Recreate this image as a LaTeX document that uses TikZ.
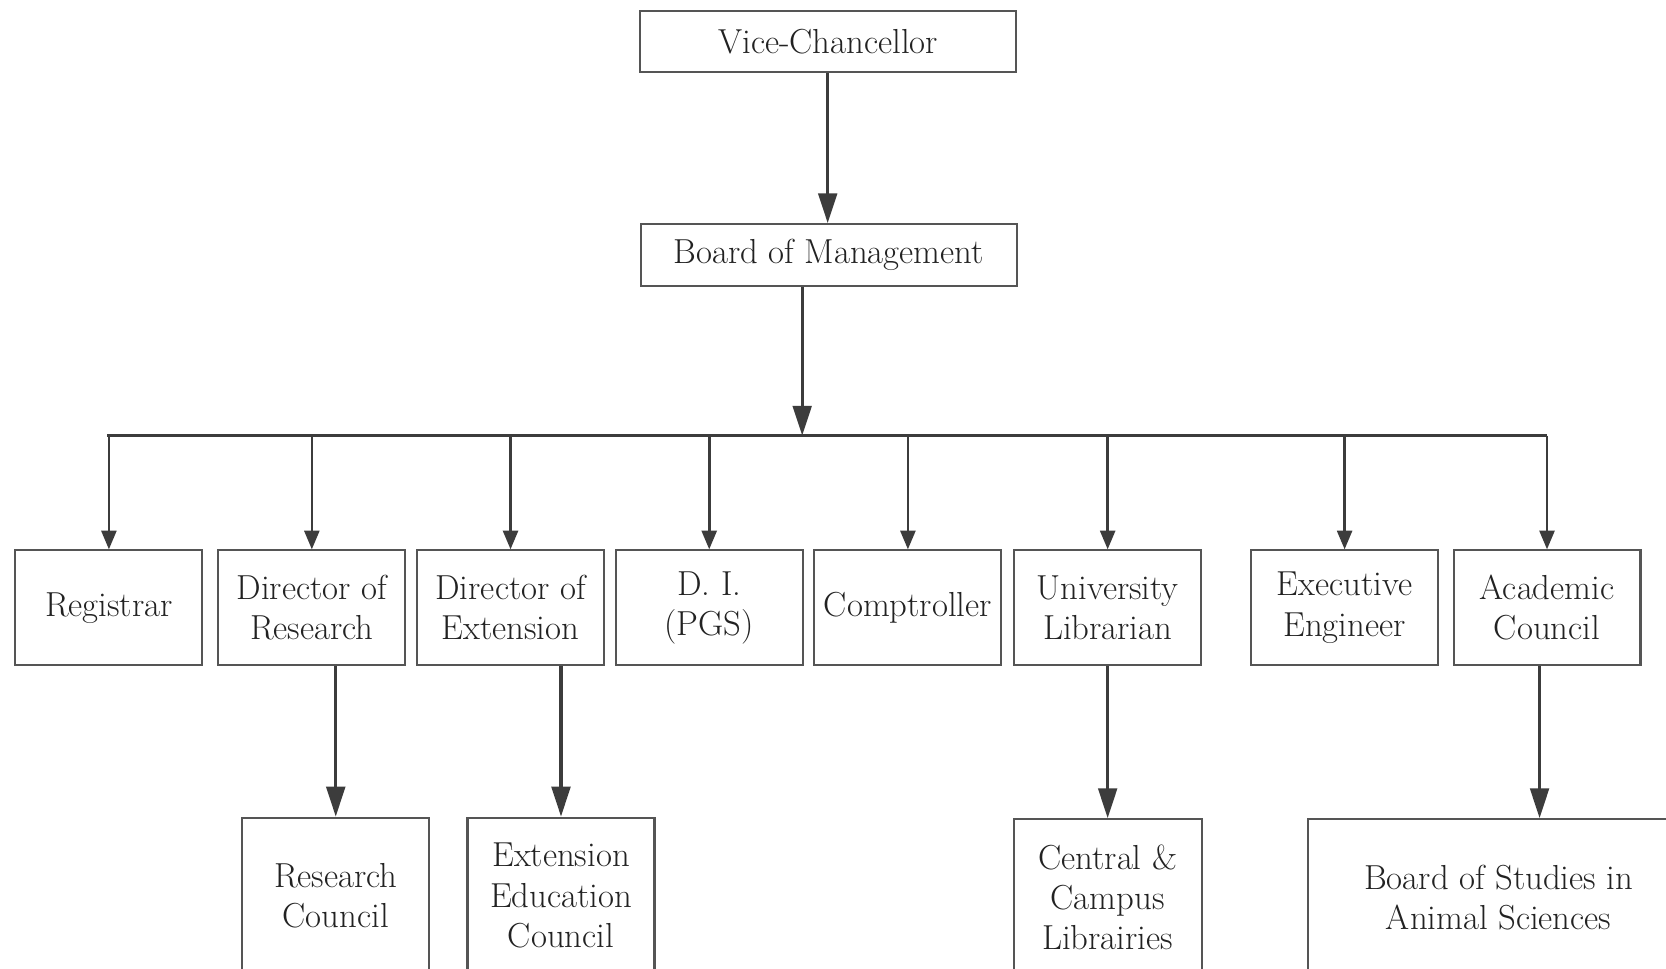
\documentclass[tikz,border=0pt]{standalone}
\usetikzlibrary{arrows.meta}
\definecolor{ln}{HTML}{3C3C3C}
\definecolor{bd}{HTML}{555555}
\definecolor{tx}{HTML}{222222}
\begin{document}
\begin{tikzpicture}[x=0.02cm,y=-0.02cm,
  box/.style={draw=bd,line width=1.1pt,rectangle,inner sep=0pt,align=center,text=tx,
    font=\fontsize{18.6}{21.6}\selectfont},
  topbox/.style={box,minimum width=7.08cm,minimum height=1.16cm},
  midbox/.style={box,minimum width=3.52cm,minimum height=2.16cm},
  lowbox/.style={box,minimum height=2.94cm},
  arr/.style={draw=ln,line width=1.7pt,-{Triangle[length=16pt,width=10pt]}},
  sarr/.style={draw=ln,line width=1.4pt,-{Triangle[length=10pt,width=8pt]}},
  bus/.style={draw=ln,line width=1.6pt,line cap=rect}]
\clip (0,0) rectangle (1568,912);
\fill[white] (0,0) rectangle (1568,912);
% top
\node[topbox] (vc) at (779.5,39) {Vice-Chancellor};
\node[topbox] (bom) at (780,240) {Board of Management};
% level 2
\node[midbox] (reg)  at (102.5,572) {Registrar};
\node[midbox] (dr)   at (293.5,572) {Director of\\Research};
\node[midbox] (de)   at (480.5,572) {Director of\\Extension};
\node[midbox] (di)   at (667.5,572) {D. I.\\(PGS)};
\node[midbox] (comp) at (854.5,572) {Comptroller};
\node[midbox] (ul)   at (1042.5,572) {University\\Librarian};
\node[midbox] (ee)   at (1265.5,572) {Executive\\Engineer};
\node[midbox] (ac)   at (1456,572) {Academic\\Council};
% level 3
\node[lowbox,minimum width=3.52cm] (rc)  at (316,843) {Research\\Council};
\node[lowbox,minimum width=3.52cm] (eec) at (528,843) {Extension\\Education\\Council};
\node[lowbox,minimum width=3.54cm] (ccl) at (1042.5,844.5) {Central \&\\Campus\\Librairies};
\node[lowbox,minimum width=7.18cm] (bos) at (1410.5,844.5) {Board of Studies in\\Animal Sciences};
% bus coordinates
\coordinate (busL) at (102,410);
\coordinate (busR) at (1455,410);
\coordinate (busM) at (755,410);
% connectors
\draw[arr] (vc.south -| 779,0) -- (bom.north -| 779,0);
\draw[arr] (bom.south -| busM) -- (busM);
\draw[bus] (busL) -- (busR);
\foreach \n in {reg,dr,de,di,comp,ul,ee,ac}{
  \draw[sarr] (\n.north |- busL) -- (\n.north);
}
\draw[arr] (dr.south -| rc.north) -- (rc.north);
\draw[arr] (de.south -| eec.north) -- (eec.north);
\draw[arr] (ul.south -| ccl.north) -- (ccl.north);
\coordinate (acb) at (1449,627);
\draw[arr] (acb) -- (acb |- bos.north);
\end{tikzpicture}
\end{document}
